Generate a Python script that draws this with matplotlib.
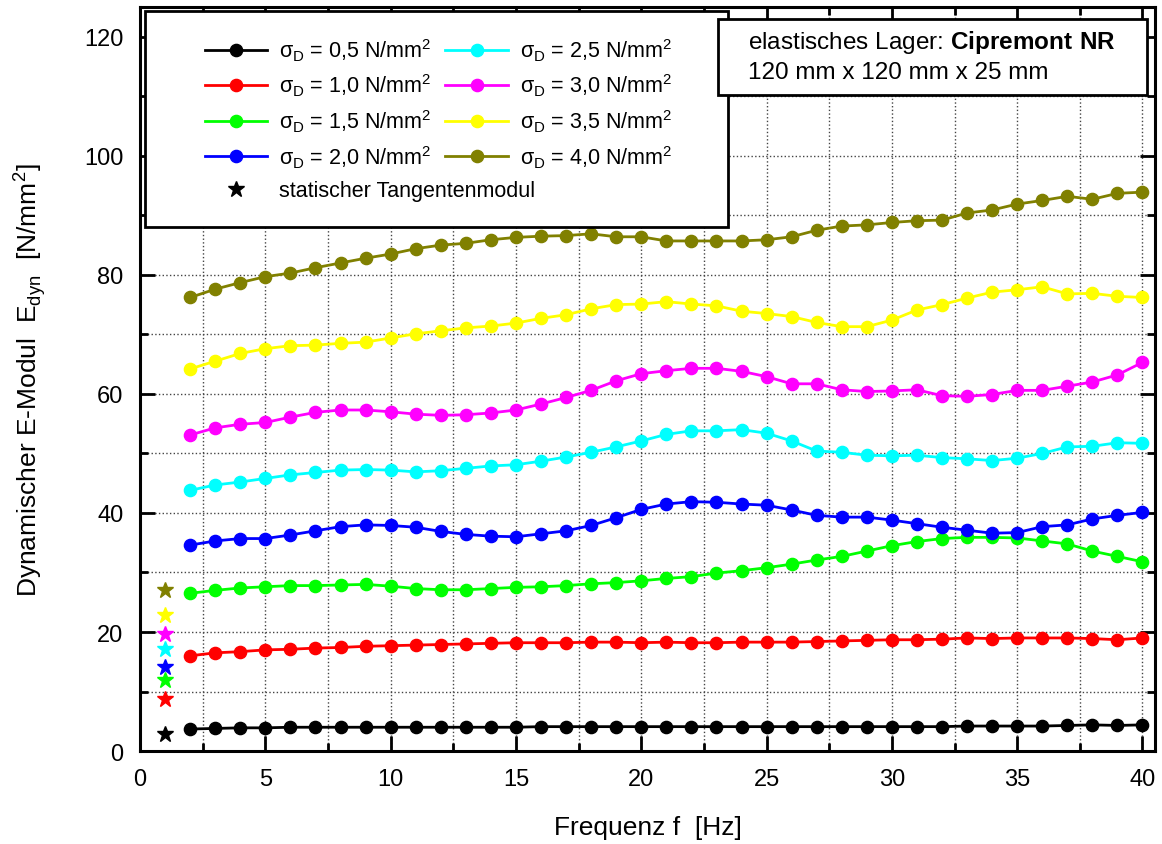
import numpy as np
import matplotlib
matplotlib.use("Agg")
import matplotlib.pyplot as plt
from matplotlib.patches import Rectangle
from matplotlib.lines import Line2D
from matplotlib.ticker import MultipleLocator

plt.rcParams['font.family'] = ['Liberation Sans', 'DejaVu Sans']
plt.rcParams['mathtext.fontset'] = 'custom'
plt.rcParams['mathtext.rm'] = 'Liberation Sans'
plt.rcParams['mathtext.bf'] = 'Liberation Sans:bold'

# frequencies (Hz)
freq = list(range(2, 41))

# dynamic modulus per compressive stress (N/mm^2)
e_05 = [3.7, 3.8, 3.9, 3.9, 4.0, 4.0, 4.0, 4.0, 4.0, 4.0, 4.0, 4.0, 4.0, 4.0, 4.1, 4.1, 4.1, 4.1, 4.1, 4.1,
        4.1, 4.1, 4.1, 4.1, 4.1, 4.1, 4.1, 4.1, 4.1, 4.1, 4.1, 4.2, 4.2, 4.2, 4.2, 4.3, 4.4, 4.3, 4.4]
e_10 = [16.0, 16.5, 16.7, 17.0, 17.1, 17.3, 17.4, 17.6, 17.7, 17.8, 17.9, 18.0, 18.1, 18.2, 18.2, 18.2, 18.3, 18.3, 18.2, 18.3,
        18.2, 18.2, 18.3, 18.3, 18.3, 18.4, 18.5, 18.6, 18.7, 18.7, 18.8, 19.0, 18.9, 19.0, 19.0, 19.0, 18.9, 18.7, 19.0]
e_15 = [26.5, 27.0, 27.4, 27.6, 27.8, 27.8, 27.9, 28.0, 27.7, 27.3, 27.1, 27.1, 27.3, 27.5, 27.6, 27.8, 28.1, 28.3, 28.6, 29.0,
        29.3, 29.9, 30.3, 30.8, 31.4, 32.1, 32.7, 33.6, 34.5, 35.2, 35.7, 35.9, 35.9, 35.8, 35.3, 34.8, 33.6, 32.7, 31.8]
e_20 = [34.6, 35.3, 35.7, 35.7, 36.3, 37.0, 37.7, 38.0, 37.9, 37.6, 36.9, 36.4, 36.1, 36.0, 36.5, 37.0, 37.9, 39.2, 40.6, 41.5,
        41.9, 41.8, 41.5, 41.3, 40.5, 39.6, 39.3, 39.3, 38.8, 38.2, 37.6, 37.1, 36.6, 36.7, 37.7, 38.0, 39.0, 39.6, 40.1]
e_25 = [43.8, 44.7, 45.2, 45.8, 46.4, 46.8, 47.2, 47.3, 47.2, 46.9, 47.1, 47.5, 47.9, 48.1, 48.7, 49.4, 50.2, 51.1, 52.1, 53.2,
        53.8, 53.8, 54.0, 53.4, 52.1, 50.4, 50.2, 49.7, 49.6, 49.7, 49.3, 49.1, 48.8, 49.2, 50.0, 51.1, 51.2, 51.8, 51.7]
e_30 = [53.1, 54.3, 54.9, 55.2, 56.1, 56.9, 57.3, 57.3, 57.0, 56.6, 56.4, 56.5, 56.8, 57.3, 58.3, 59.4, 60.6, 62.2, 63.4, 63.9,
        64.3, 64.3, 63.8, 62.9, 61.7, 61.7, 60.7, 60.4, 60.5, 60.7, 59.7, 59.6, 59.9, 60.6, 60.6, 61.3, 62.0, 63.2, 65.3]
e_35 = [64.2, 65.5, 66.8, 67.6, 68.1, 68.2, 68.5, 68.7, 69.4, 70.1, 70.6, 71.1, 71.4, 71.9, 72.7, 73.3, 74.3, 75.0, 75.1, 75.5,
        75.1, 74.8, 73.9, 73.5, 73.0, 72.0, 71.3, 71.3, 72.4, 74.1, 75.0, 76.1, 77.1, 77.5, 78.0, 76.8, 76.9, 76.4, 76.2]
e_40 = [76.2, 77.6, 78.7, 79.7, 80.3, 81.2, 82.0, 82.8, 83.5, 84.4, 85.0, 85.3, 85.9, 86.3, 86.5, 86.6, 86.9, 86.4, 86.4, 85.7,
        85.7, 85.7, 85.7, 85.9, 86.4, 87.5, 88.2, 88.4, 88.8, 89.1, 89.2, 90.4, 90.9, 91.9, 92.5, 93.2, 92.7, 93.7, 93.9]

series = [e_05, e_10, e_15, e_20, e_25, e_30, e_35, e_40]
stress_labels = ['0,5', '1,0', '1,5', '2,0', '2,5', '3,0', '3,5', '4,0']
colors = ['#000000', '#ff0000', '#00ff00', '#0000ff', '#00ffff', '#ff00ff', '#ffff00', '#808000']

# static tangent modulus, shown at f = 1 Hz
static_f = 1
static_e = [2.8, 8.7, 11.9, 14.2, 17.2, 19.6, 22.8, 27.1]

fig = plt.figure(figsize=(11.62, 8.45), dpi=100)
ax = fig.add_axes([0.1205, 0.110, 0.8735, 0.8805])

handles = []
for vals, lab, c in zip(series, stress_labels, colors):
    h, = ax.plot(freq, vals, '-o', color=c, lw=2.0, ms=8.8, zorder=3,
                 label='σ$_\\mathregular{D}$ = ' + lab + ' N/mm$^\\mathregular{2}$')
    handles.append(h)

for v, c in zip(static_e, colors):
    ax.plot(static_f, v, '*', color=c, ms=12, zorder=3)

star = Line2D([], [], linestyle='none', marker='*', color='k', ms=12,
              label='statischer Tangentenmodul')

ax.set_xlim(0, 40.5)
ax.set_ylim(0, 125)
ax.xaxis.set_major_locator(MultipleLocator(5))
ax.xaxis.set_minor_locator(MultipleLocator(2.5))
ax.yaxis.set_major_locator(MultipleLocator(20))
ax.yaxis.set_minor_locator(MultipleLocator(10))
ax.tick_params(which='both', direction='in', top=True, right=True, width=2)
ax.tick_params(which='major', length=11, labelsize=17, pad=12)
ax.tick_params(which='minor', length=6)
ax.set_yticks([0, 20, 40, 60, 80, 100, 120])
ax.grid(which='both', linestyle=':', color='#444444', lw=1.0, zorder=0)
ax.set_axisbelow(True)
for s in ax.spines.values():
    s.set_linewidth(2.2)

ax.set_xlabel('Frequenz f  [Hz]', fontsize=19, labelpad=18)
ax.set_ylabel('Dynamischer E-Modul  E$_\\mathregular{dyn}$  [N/mm$^\\mathregular{2}$]', fontsize=19, labelpad=26)

# legend frame
ax.add_patch(Rectangle((0.005, 0.704), 0.574, 0.290, transform=ax.transAxes,
                       facecolor='white', edgecolor='black', lw=2, zorder=4, clip_on=False))
leg_kw = dict(frameon=False, fontsize=15.5, handlelength=2.9, handletextpad=0.55,
              columnspacing=0.65, labelspacing=0.42, borderpad=0, numpoints=1)
leg = ax.legend(handles=handles, ncol=2, loc='upper left', bbox_to_anchor=(0.053, 0.975), **leg_kw)
leg.set_zorder(5)
ax.add_artist(leg)
leg2 = ax.legend(handles=[star], loc='center left', bbox_to_anchor=(0.053, 0.753), **leg_kw)
leg2.set_zorder(5)

# info box
ax.add_patch(Rectangle((0.569, 0.882), 0.423, 0.102, transform=ax.transAxes,
                       facecolor='white', edgecolor='black', lw=2, zorder=6))
ax.text(0.599, 0.953, 'elastisches Lager: $\\mathbf{Cipremont\\ NR}$', transform=ax.transAxes,
        fontsize=17.5, va='center', ha='left', zorder=7)
ax.text(0.599, 0.913, '120 mm x 120 mm x 25 mm', transform=ax.transAxes,
        fontsize=17.5, va='center', ha='left', zorder=7)

fig.savefig('out.png', dpi=100)
